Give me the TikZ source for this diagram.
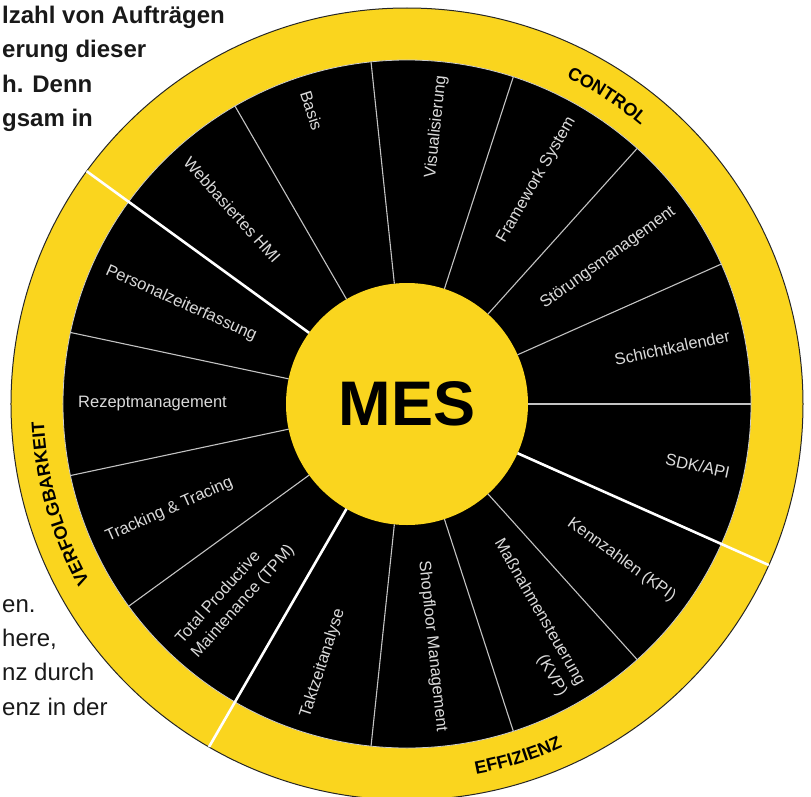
\documentclass[tikz,border=0pt]{standalone}
\usepackage{fontspec}
\setmainfont{Liberation Sans}
\usepackage{tikz}
\usetikzlibrary{decorations.text}

\definecolor{mesyellow}{RGB}{250,213,30}
\definecolor{seggray}{RGB}{218,218,218}
\definecolor{linegray}{RGB}{195,195,195}

\newcommand{\catfont}{\fontsize{18}{18}\selectfont\bfseries}

\begin{document}
\begin{tikzpicture} [x=1pt, y=1pt,
        segtext/.style = {text=seggray, inner sep=0pt, font=\fontsize{16.5}{21}\selectfont},
        thinsep/.style = {draw=linegray, line width=1.1pt},
        thicksep/.style = {draw=white, line width=2.6pt},
        sidetext/.style = {anchor=base west, inner sep=0pt, text=black!90}]

    \useasboundingbox (-407,-392) rectangle (404,404);

    % rings
    \fill [mesyellow, draw=black!85, line width=1pt] (0,0) circle (396);
    \fill [black] (0,0) circle (344);
    \draw [white!80!black, line width=0.8pt] (0,0) circle (344);

    \node (mes) [circle, fill=mesyellow, minimum size=242pt, inner sep=0pt,
        outer sep=0pt, font=\fontsize{63}{63}\selectfont\bfseries] at (0,0) {MES};

    % segment borders
    \foreach \a in {0,24,...,120,168,192,216,264,288,312}
        \draw [thinsep] (mes.\a) -- (\a:344);
    \foreach \a in {144,240,336}
        \draw [thicksep] (mes.\a) -- (\a:396);

    % labels, read towards the centre
    \foreach \a/\txt [count=\i] in {108/Basis, 132/Webbasiertes HMI,
            156/Personalzeiterfassung, 180/Rezeptmanagement,
            204/Tracking \& Tracing, 228/{Total Productive\\Maintenance (TPM)},
            252/Taktzeitanalyse}
        \node (in\i) [segtext, anchor=west, align=left, rotate=\a-180] at (\a:329) {\txt};

    % labels, read outwards
    \foreach \a/\txt [count=\i] in {276/Shopfloor Management,
            300/{Maßnahmensteuerung\\(KVP)}, 324/Kennzahlen (KPI), 348/{SDK/API},
            12/Schichtkalender, 36/Störungsmanagement, 60/Framework System,
            84/Visualisierung}
        \node (out\i) [segtext, anchor=east, align=right, rotate=\a] at (\a:330) {\txt};

    % groups on the ring
    \path [decorate, decoration={text along path, text align=center,
        text={|\catfont|CONTROL}}] (85:363.5) arc [start angle=85, end angle=29, radius=363.5];
    \path [decorate, decoration={text along path, text align=center,
        text={|\catfont|VERFOLGBARKEIT}}] (236:363.5) arc [start angle=236, end angle=156, radius=363.5];
    \path [decorate, decoration={text along path, text align=center,
        text={|\catfont|EFFIZIENZ}}] (257:376.5) arc [start angle=257, end angle=318, radius=376.5];

    % text beside the wheel
    \node (top1) [sidetext, font=\fontsize{24}{24}\selectfont\bfseries] at (-405,380) {lzahl von Aufträgen};
    \node (top2) [sidetext, font=\fontsize{24}{24}\selectfont\bfseries] at (-405,346) {erung dieser};
    \node (top3) [sidetext, font=\fontsize{24}{24}\selectfont\bfseries] at (-405,312) {h. Denn};
    \node (top4) [sidetext, font=\fontsize{24}{24}\selectfont\bfseries] at (-405,278) {gsam in};
    \node (low1) [sidetext, font=\fontsize{24}{24}\selectfont] at (-405,-208) {en.};
    \node (low2) [sidetext, font=\fontsize{24}{24}\selectfont] at (-405,-242) {here,};
    \node (low3) [sidetext, font=\fontsize{24}{24}\selectfont] at (-405,-276) {nz durch};
    \node (low4) [sidetext, font=\fontsize{24}{24}\selectfont] at (-405,-311) {enz in der};
\end{tikzpicture}
\end{document}
